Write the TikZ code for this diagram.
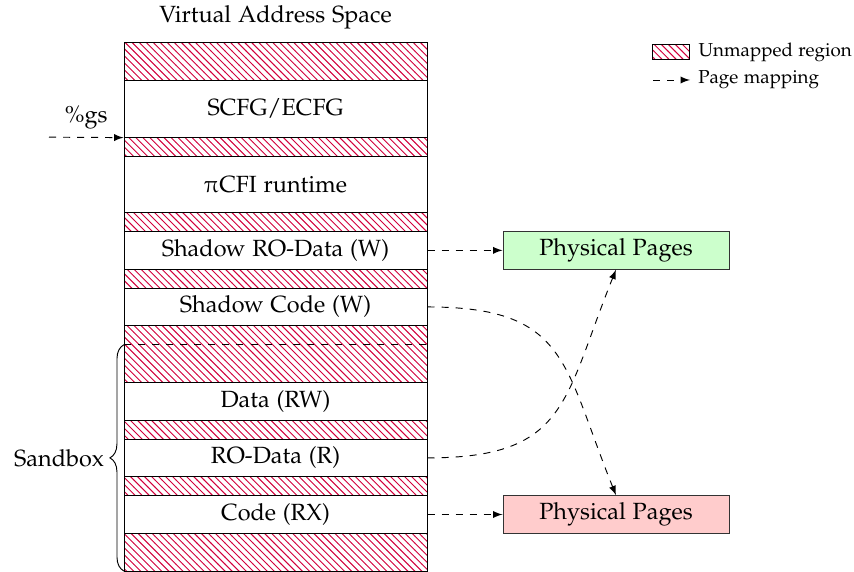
\documentclass[tikz,border=0pt]{standalone}
\usepackage[T1]{fontenc}
\usepackage{pxfonts}
\renewcommand{\rmdefault}{pplx}
\usepackage{tikz}
\usetikzlibrary{arrows, patterns, decorations.pathreplacing}

\definecolor{unmapred}{RGB}{210,0,60}
\definecolor{pagegreen}{RGB}{204,255,204}
\definecolor{pagered}{RGB}{255,204,204}

\tikzset{
  unmapped/.style={draw=black, pattern=north west lines, pattern color=unmapred},
  region/.style={draw=black, fill=white, minimum width=4.545cm, inner sep=0pt},
  physpage/.style={draw=black!80, minimum width=3.39cm, minimum height=0.566cm, inner sep=0pt},
  mapping/.style={dashed, -{latex[scale=1.25]}}
}

\begin{document}
\begin{tikzpicture}[y=0.283cm]
  \useasboundingbox (0,0) rectangle (12.81,30.27);

  \node (title) at (4.1325,29.37) {Virtual Address Space};

  % unmapped gaps
  \foreach \lo/\hi in {0/2, 4/5, 7/8, 10/13, 15/16, 18/19, 22/23, 26/28}
    \draw [unmapped] (1.86,\lo) rectangle (6.405,\hi);

  \node (scfg) [region, minimum height=0.849cm] at (4.1325,24.5) {SCFG/ECFG};
  \node (runtime) [region, minimum height=0.849cm] at (4.1325,20.5) {$\piup$CFI runtime};
  \node (shro) [region, minimum height=0.566cm] at (4.1325,17) {Shadow RO-Data (W)};
  \node (shcode) [region, minimum height=0.566cm] at (4.1325,14) {Shadow Code (W)};
  \node (data) [region, minimum height=0.566cm] at (4.1325,9) {Data (RW)};
  \node (rodata) [region, minimum height=0.566cm] at (4.1325,6) {RO-Data (R)};
  \node (code) [region, minimum height=0.566cm] at (4.1325,3) {Code (RX)};

  \node (ppgreen) [physpage, fill=pagegreen] at (9.24,17) {Physical Pages};
  \node (ppred) [physpage, fill=pagered] at (9.24,3) {Physical Pages};

  \draw [dashed] (1.86,12) -- (6.405,12);
  \draw [decorate, decoration={brace, amplitude=6pt}] (1.86,0) -- (1.86,12)
    node (sandbox) [midway, left=5pt] {Sandbox};

  \coordinate (gsin) at (0.735,23);
  \draw [mapping] (gsin) -- (scfg.south west) node (gs) [midway, above] {\%gs};

  \path [mapping]
  (shro) edge (ppgreen)
  (code) edge (ppred)
  (shcode.east) edge [out=0, in=112, looseness=1.35] (ppred.north)
  (rodata.east) edge [out=0, in=-112, looseness=1.35] (ppgreen.south);

  % legend
  \node (swatch) [unmapped, minimum width=0.555cm, minimum height=0.225cm, inner sep=0pt] at (10.07,27.49) {};
  \node (swatchtext) [anchor=west, font=\footnotesize] at (swatch.east) {Unmapped region};
  \coordinate (legfrom) at (9.795,26.03);
  \coordinate (legto) at (10.35,26.03);
  \draw [mapping] (legfrom) -- (legto) node (maptext) [right, font=\footnotesize] {Page mapping};
\end{tikzpicture}
\end{document}
